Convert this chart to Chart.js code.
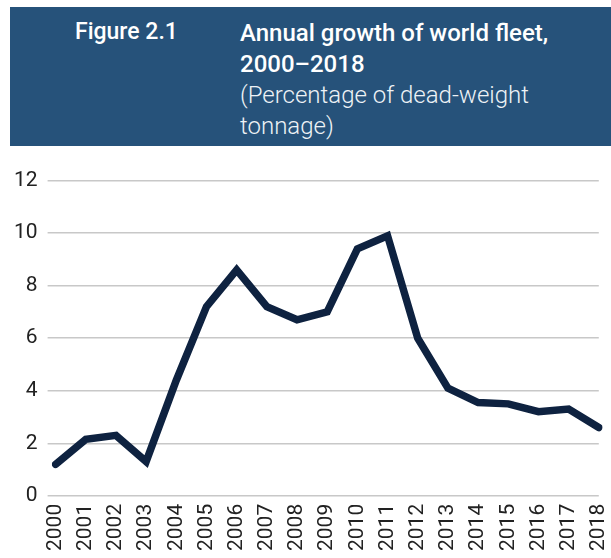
<!DOCTYPE html>
<html lang="en">
<head>
<meta charset="UTF-8">
<title>Annual growth of world fleet</title>
<script src="https://cdn.jsdelivr.net/npm/chart.js"></script>
<style>
  body { margin: 0; background: #fff; width: 611px; height: 558px; overflow: hidden; position: relative; font-family: Roboto, "Liberation Sans", Arial, sans-serif; }
  .header { position: absolute; left: 10px; top: 7px; width: 601px; height: 139px; background: #26527a; color: #fff; }
  .fig { position: absolute; left: 65px; top: 11px; font-size: 23px; font-weight: 500; }
  .title { position: absolute; left: 230px; top: 11px; font-size: 24px; line-height: 31px; font-weight: 500; }
  .sub { font-weight: 300; font-size: 24px; color: #eef2f6; }
  .chart { position: absolute; left: 0; top: 158px; width: 632px; height: 401px; }
</style>
</head>
<body>
  <div class="header">
    <div class="fig">Figure 2.1</div>
    <div class="title">Annual growth of world fleet,<br>2000–2018<br><span class="sub">(Percentage of dead-weight<br>tonnage)</span></div>
  </div>
  <div class="chart"><canvas id="fleetChart"></canvas></div>

<script>
const years = ['2000','2001','2002','2003','2004','2005','2006','2007','2008','2009',
               '2010','2011','2012','2013','2014','2015','2016','2017','2018'];
const growth = [1.2, 2.15, 2.3, 1.3, 4.4, 7.2, 8.6, 7.2, 6.7, 7.0,
                9.4, 9.9, 6.0, 4.1, 3.55, 3.5, 3.2, 3.3, 2.6];
const yTicks = [0, 2, 4, 6, 8, 10, 12];

const fontFamily = 'Roboto, "Liberation Sans", Arial, sans-serif';

new Chart(document.getElementById('fleetChart'), {
  type: 'line',
  data: {
    labels: years,
    datasets: [{
      data: growth,
      borderColor: '#0e2240',
      borderWidth: 7.5,
      pointRadius: 0,
      tension: 0,
      borderJoinStyle: 'miter',
      borderCapStyle: 'round',
      fill: false
    }]
  },
  options: {
    responsive: true,
    maintainAspectRatio: false,
    animation: false,
    layout: { padding: { left: 4, right: 0, top: 0, bottom: 0 } },
    plugins: { legend: { display: false }, tooltip: { enabled: false } },
    scales: {
      x: {
        offset: false,
        grid: { display: false, drawTicks: false },
        border: { display: false },
        ticks: {
          color: '#222',
          font: { family: fontFamily, size: 21 },
          minRotation: 90,
          maxRotation: 90,
          autoSkip: false,
          padding: 8
        }
      },
      y: {
        min: 0,
        max: 12,
        afterBuildTicks: axis => { axis.ticks = yTicks.map(v => ({ value: v })); },
        grid: { color: '#c8c8c8', lineWidth: 1.5, drawTicks: true, tickLength: 8, tickColor: '#c8c8c8' },
        border: { display: false },
        ticks: {
          color: '#222',
          font: { family: fontFamily, size: 21 },
          padding: 10
        }
      }
    }
  }
});
</script>
</body>
</html>
